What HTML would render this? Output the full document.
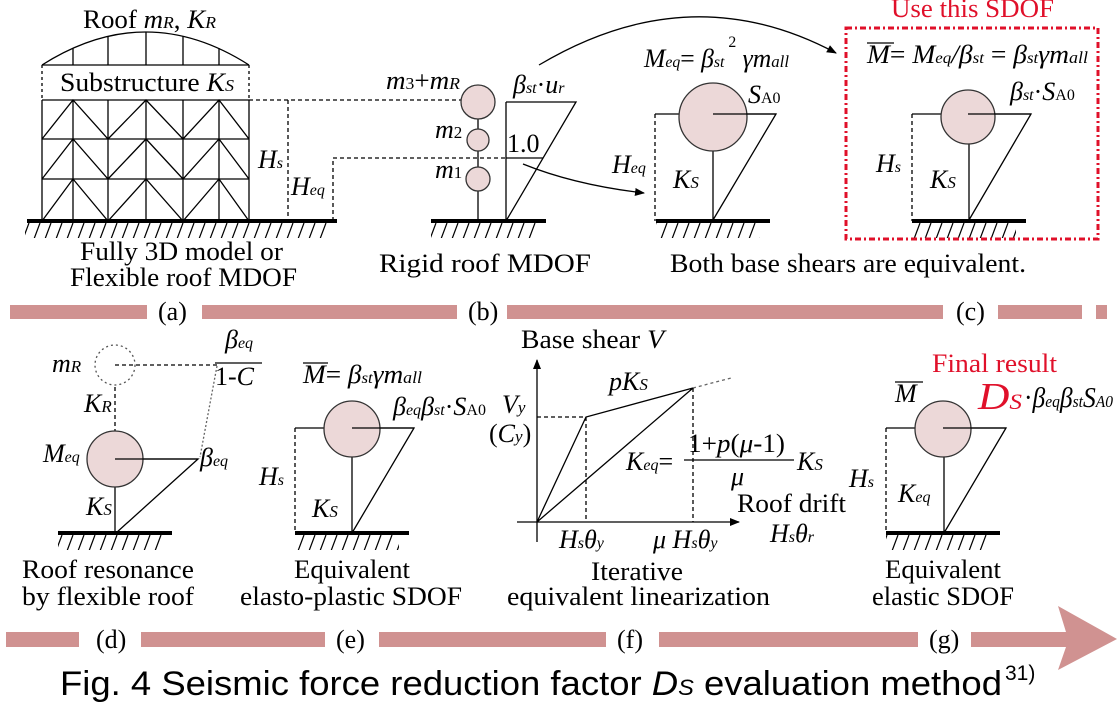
<!DOCTYPE html>
<html><head><meta charset="utf-8"><style>
html,body{margin:0;padding:0;background:#fff;}
svg{display:block;}
text{font-family:"Liberation Serif","Times New Roman",serif;fill:#000;}
.i{font-style:italic;}
</style></head><body>
<svg width="1119" height="709" viewBox="0 0 1119 709" xmlns="http://www.w3.org/2000/svg">
<defs>
<pattern id="h" x="0" y="223" width="11" height="16" patternUnits="userSpaceOnUse"><line x1="1" y1="16" x2="7" y2="0" stroke="#000" stroke-width="1.2"/></pattern>
<pattern id="h2" x="0" y="535" width="11" height="16" patternUnits="userSpaceOnUse"><line x1="1" y1="16" x2="7" y2="0" stroke="#000" stroke-width="1.2"/></pattern>
<marker id="ar" markerWidth="10" markerHeight="8" refX="9" refY="4" orient="auto" markerUnits="userSpaceOnUse"><path d="M0,0 L10,4 L0,8 Z" fill="#000"/></marker>
</defs>
<g stroke="#000" stroke-width="1.3" fill="none">
<path d="M42,65 Q146,-1 249,65"/>
<path d="M73,65V48 M108,65V36 M146,65V32 M183,65V36 M219,65V48"/>
<path d="M42,65H249" />
<path d="M42,65V100 M249,65V100" stroke-dasharray="3,3"/>
<path d="M42,100H249 M42,139H249 M42,179H249"/>
<path d="M42,100V221 M73,100V221 M108,100V221 M146,100V221 M183,100V221 M219,100V221 M249,100V221"/>
<path d="M42,139L73,100L108,139L146,100L183,139L219,100L249,139"/>
<path d="M42,179L73,139L108,179L146,139L183,179L219,139L249,179"/>
<path d="M42,221L73,179L108,221L146,179L183,221L219,179L249,221"/>
<path d="M249,100H461 M288,100V221 M333,221V158H506" stroke-dasharray="4,3"/>
<path d="M478,119V221"/>
<path d="M506,102V221 M506,102H576L506,221 M506,158H543"/>
<path d="M523,164 Q575,185 644,193" marker-end="url(#ar)"/>
<path d="M539,65 Q690,-25 836,53" marker-end="url(#ar)"/>
<path d="M655,114H776L713,220 M713,151V221"/>
<path d="M655,114V221" stroke-dasharray="4,3"/>
<path d="M912,114H1031L969,220 M969,144V221"/>
<path d="M912,114V221" stroke-dasharray="4,3"/>
<circle cx="115" cy="365" r="20" stroke="#555" stroke-dasharray="2,3"/>
<path d="M115,365H218 M115,387V432" stroke-dasharray="4,3"/>
<path d="M217,366L200,457" stroke="#666" stroke-dasharray="2,2"/>
<path d="M215,363H262"/>
<path d="M115,459H198L116,533 M115,487V533"/>
<path d="M295,428H414L352,533 M352,457V533"/>
<path d="M295,428V533" stroke-dasharray="4,3"/>
<path d="M537,542V360" marker-end="url(#ar)"/>
<path d="M517,522H739" marker-end="url(#ar)"/>
<path d="M537,522L586,417L693,388 M537,522L693,388"/>
<path d="M693,388L731,378" stroke="#666" stroke-dasharray="3,3"/>
<path d="M537,417H586 M586,417V522 M693,388V522" stroke-dasharray="4,3"/>
<path d="M684,460H794"/>
<path d="M886,428H1006L944,533 M944,457V533"/>
<path d="M886,428V533" stroke-dasharray="4,3"/>
<path d="M867,43H894 M303,363H328 M895,382H923"/>
</g>
<g fill="#ecd8d8" stroke="#333" stroke-width="1.3">
<circle cx="478" cy="102" r="17"/><circle cx="478" cy="140" r="11"/><circle cx="478" cy="179" r="12"/>
<circle cx="713" cy="117" r="34"/><circle cx="968" cy="117" r="27"/>
<circle cx="115" cy="459" r="28"/><circle cx="352" cy="429" r="28"/><circle cx="943" cy="429" r="28"/>
</g>
<g stroke="#000" stroke-width="1.3"><path d="M713,114H776 M968,114H1031 M115,459H198 M352,428H414 M943,428H1006"/></g>
<g fill="#000">
<rect x="27" y="219" width="310" height="4"/><rect x="431" y="219" width="115" height="4"/>
<rect x="656" y="219" width="114" height="4"/><rect x="912" y="219" width="114" height="4"/>
<rect x="58" y="531" width="114" height="4"/><rect x="295" y="531" width="114" height="4"/><rect x="886" y="531" width="114" height="4"/>
</g>
<g>
<rect x="25" y="223" width="305" height="15" fill="url(#h)"/><rect x="431" y="223" width="106" height="15" fill="url(#h)"/>
<rect x="656" y="223" width="104" height="15" fill="url(#h)"/><rect x="912" y="223" width="104" height="15" fill="url(#h)"/>
<rect x="58" y="535" width="104" height="15" fill="url(#h2)"/><rect x="295" y="535" width="104" height="15" fill="url(#h2)"/><rect x="886" y="535" width="104" height="15" fill="url(#h2)"/>
</g>
<rect x="846" y="28" width="252" height="211" fill="none" stroke="#e0102a" stroke-width="3" stroke-dasharray="6,3,2,3"/>
<g fill="#d09291">
<rect x="10" y="305" width="137" height="14"/><rect x="202" y="305" width="255" height="14"/><rect x="507" y="305" width="436" height="14"/><rect x="998" y="305" width="84" height="14"/><rect x="1096" y="305" width="11" height="14"/>
<rect x="6" y="632" width="73" height="15"/><rect x="141" y="632" width="184" height="15"/><rect x="379" y="632" width="227" height="15"/><rect x="659" y="632" width="259" height="15"/><rect x="971" y="632" width="96" height="15"/>
<polygon points="1058,606 1117,639 1058,670 1066,647 1066,632"/>
</g>
<g font-size="26">
<text x="83" y="28" textLength="133" lengthAdjust="spacingAndGlyphs">Roof <tspan class="i">m</tspan><tspan class="i" font-size="17">R</tspan>, <tspan class="i">K</tspan><tspan class="i" font-size="17">R</tspan></text>
<text x="60" y="91" textLength="174" lengthAdjust="spacingAndGlyphs">Substructure <tspan class="i">K</tspan><tspan class="i" font-size="17">S</tspan></text>
<text x="258" y="168" class="i">H<tspan font-size="16">s</tspan></text>
<text x="291" y="195" class="i">H<tspan font-size="16">eq</tspan></text>
<text x="80" y="260" textLength="203" lengthAdjust="spacingAndGlyphs">Fully 3D model or</text>
<text x="70" y="286" textLength="227" lengthAdjust="spacingAndGlyphs">Flexible roof MDOF</text>
<text x="386" y="89" class="i" textLength="74" lengthAdjust="spacingAndGlyphs">m<tspan font-size="17" font-style="normal">3</tspan><tspan font-style="normal">+</tspan>m<tspan font-size="17">R</tspan></text>
<text x="435" y="138" class="i">m<tspan font-size="17" font-style="normal">2</tspan></text>
<text x="435" y="178" class="i">m<tspan font-size="17" font-style="normal">1</tspan></text>
<text x="507" y="152">1.0</text>
<text x="513" y="93" class="i">β<tspan font-size="16">st</tspan><tspan font-style="normal">·</tspan>u<tspan font-size="16">r</tspan></text>
<text x="379" y="272" textLength="212" lengthAdjust="spacingAndGlyphs">Rigid roof MDOF</text>
<text x="644" y="67" class="i" textLength="145" lengthAdjust="spacingAndGlyphs">M<tspan font-size="16">eq</tspan><tspan font-style="normal">= </tspan>β<tspan font-size="16">st</tspan><tspan font-size="16" font-style="normal" dy="-20"> 2</tspan><tspan dy="20"> γm</tspan><tspan font-size="17">all</tspan></text>
<text x="748" y="103" class="i">S<tspan font-size="16" font-style="normal">A0</tspan></text>
<text x="612" y="173" class="i">H<tspan font-size="16">eq</tspan></text>
<text x="673" y="188" class="i">K<tspan font-size="17">S</tspan></text>
<text x="891" y="17" textLength="163" lengthAdjust="spacingAndGlyphs" style="fill:#e0102a">Use this SDOF</text>
<text x="867" y="63" class="i" textLength="221" lengthAdjust="spacingAndGlyphs">M<tspan font-style="normal">= </tspan>M<tspan font-size="16">eq</tspan>/β<tspan font-size="16">st</tspan><tspan font-style="normal"> = </tspan>β<tspan font-size="16">st</tspan>γm<tspan font-size="17">all</tspan></text>
<text x="1010" y="100" class="i">β<tspan font-size="16">st</tspan><tspan font-style="normal">·</tspan>S<tspan font-size="16" font-style="normal">A0</tspan></text>
<text x="876" y="172" class="i">H<tspan font-size="16">s</tspan></text>
<text x="930" y="188" class="i">K<tspan font-size="17">S</tspan></text>
<text x="670" y="272" textLength="356" lengthAdjust="spacingAndGlyphs">Both base shears are equivalent.</text>
<text x="158" y="320">(a)</text><text x="468" y="320">(b)</text><text x="956" y="320">(c)</text>
<text x="52" y="372" class="i">m<tspan font-size="17">R</tspan></text>
<text x="225" y="348" class="i">β<tspan font-size="16">eq</tspan></text>
<text x="215" y="385">1-<tspan class="i">C</tspan></text>
<text x="84" y="412" class="i">K<tspan font-size="17">R</tspan></text>
<text x="43" y="462" class="i">M<tspan font-size="16">eq</tspan></text>
<text x="200" y="466" class="i">β<tspan font-size="16">eq</tspan></text>
<text x="86" y="515" class="i">K<tspan font-size="17">S</tspan></text>
<text x="22" y="578" textLength="172" lengthAdjust="spacingAndGlyphs">Roof resonance</text>
<text x="22" y="605" textLength="172" lengthAdjust="spacingAndGlyphs">by flexible roof</text>
<text x="303" y="383" class="i" textLength="119" lengthAdjust="spacingAndGlyphs">M<tspan font-style="normal">= </tspan>β<tspan font-size="16">st</tspan>γm<tspan font-size="17">all</tspan></text>
<text x="393" y="415" class="i" textLength="93" lengthAdjust="spacingAndGlyphs">β<tspan font-size="16">eq</tspan>β<tspan font-size="16">st</tspan><tspan font-style="normal">·</tspan>S<tspan font-size="16" font-style="normal">A0</tspan></text>
<text x="259" y="485" class="i">H<tspan font-size="16">s</tspan></text>
<text x="312" y="517" class="i">K<tspan font-size="17">S</tspan></text>
<text x="294" y="578" textLength="116" lengthAdjust="spacingAndGlyphs">Equivalent</text>
<text x="240" y="605" textLength="222" lengthAdjust="spacingAndGlyphs">elasto-plastic SDOF</text>
<text x="521" y="348" textLength="143" lengthAdjust="spacingAndGlyphs">Base shear <tspan class="i">V</tspan></text>
<text x="502" y="413" class="i">V<tspan font-size="17">y</tspan></text>
<text x="489" y="442">(<tspan class="i">C</tspan><tspan class="i" font-size="17">y</tspan>)</text>
<text x="609" y="390" class="i">pK<tspan font-size="17">S</tspan></text>
<text x="626" y="470" class="i">K<tspan font-size="16">eq</tspan><tspan font-style="normal">=</tspan></text>
<text x="688" y="452" textLength="97" lengthAdjust="spacingAndGlyphs">1+<tspan class="i">p</tspan>(<tspan class="i">μ</tspan>-1)</text>
<text x="731" y="485" class="i">μ</text>
<text x="797" y="470" class="i">K<tspan font-size="17">S</tspan></text>
<text x="737" y="512" textLength="109" lengthAdjust="spacingAndGlyphs">Roof drift</text>
<text x="770" y="542" class="i">H<tspan font-size="16">s</tspan>θ<tspan font-size="16">r</tspan></text>
<text x="559" y="548" class="i">H<tspan font-size="16">s</tspan>θ<tspan font-size="16">y</tspan></text>
<text x="653" y="548" class="i">μ H<tspan font-size="16">s</tspan>θ<tspan font-size="16">y</tspan></text>
<text x="591" y="580" textLength="92" lengthAdjust="spacingAndGlyphs">Iterative</text>
<text x="507" y="605" textLength="263" lengthAdjust="spacingAndGlyphs">equivalent linearization</text>
<text x="932" y="372" textLength="125" lengthAdjust="spacingAndGlyphs" style="fill:#e0102a">Final result</text>
<text x="895" y="402" class="i">M</text>
<text x="978" y="409" class="i" font-size="38" textLength="44" lengthAdjust="spacingAndGlyphs" style="fill:#e0102a">D<tspan font-size="22">S</tspan></text>
<text x="1024" y="407" class="i" font-size="28" textLength="89" lengthAdjust="spacingAndGlyphs"><tspan font-style="normal">·</tspan>β<tspan font-size="17">eq</tspan>β<tspan font-size="17">st</tspan>S<tspan font-size="17">A0</tspan></text>
<text x="849" y="487" class="i">H<tspan font-size="16">s</tspan></text>
<text x="898" y="502" class="i">K<tspan font-size="16">eq</tspan></text>
<text x="885" y="578" textLength="116" lengthAdjust="spacingAndGlyphs">Equivalent</text>
<text x="872" y="605" textLength="142" lengthAdjust="spacingAndGlyphs">elastic SDOF</text>
<text x="96" y="648">(d)</text><text x="336" y="648">(e)</text><text x="617" y="648">(f)</text><text x="929" y="648">(g)</text>
</g>
<text x="60" y="695" font-size="34" textLength="942" lengthAdjust="spacingAndGlyphs" style="font-family:'Liberation Sans',sans-serif">Fig. 4 Seismic force reduction factor <tspan font-style="italic">D</tspan><tspan font-style="italic" font-size="22">S</tspan> evaluation method</text>
<text x="1005" y="680" font-size="21" style="font-family:'Liberation Sans',sans-serif">31)</text>
</svg>
</body></html>
